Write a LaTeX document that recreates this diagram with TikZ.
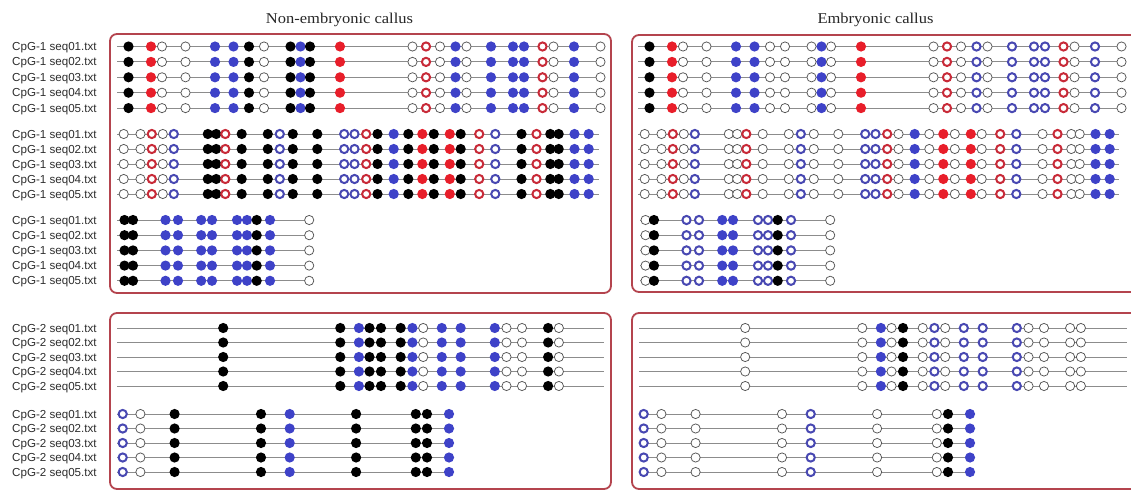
\documentclass[tikz,border=0pt]{standalone}
\usepackage{fontspec}
\setmainfont{Liberation Serif}
\setsansfont{Liberation Sans}
\definecolor{blueF}{RGB}{62,66,200}
\definecolor{redF}{RGB}{232,30,42}
\definecolor{redR}{RGB}{200,42,56}
\definecolor{blueR}{RGB}{72,72,178}
\definecolor{lineG}{RGB}{140,140,140}
\definecolor{openG}{RGB}{85,85,85}
\definecolor{panelC}{RGB}{180,68,78}
\definecolor{labC}{RGB}{45,45,45}
\newcommand\mgroup[7]{%
  \foreach \r in {1,...,5}{%
    \pgfmathsetmacro\yy{#1+(\r-1)*#2}
    \draw[seqline] (#4+#3,\yy) -- (#5+#3,\yy);
    \foreach \px/\st [count=\i] in {#6}{\node[\st] (#7-\r-\i) at (\px+#3,\yy) {};}
  }}
\newcommand\mlabels[4]{%
  \foreach \r in {1,...,5}{%
    \pgfmathsetmacro\yy{#1+(\r-1)*#2+4}
    \node[lab] (lab-#4-\r) at (12,\yy) {#3 seq0\r.txt};
  }}
\begin{document}
\begin{tikzpicture}[x=1pt,y=-1pt,
  seqline/.style={draw=lineG,line width=0.9pt},
  dot/.style={circle,inner sep=0pt,outer sep=0pt},
  dk/.style={dot,fill=black,minimum size=10.2pt},
  db/.style={dot,fill=blueF,minimum size=10.2pt},
  dr/.style={dot,fill=redF,minimum size=10.2pt},
  dw/.style={dot,fill=white,draw=openG,line width=0.75pt,minimum size=9.2pt},
  rr/.style={dot,fill=white,draw=redR,line width=2pt,minimum size=8.2pt},
  rb/.style={dot,fill=white,draw=blueR,line width=2pt,minimum size=8.2pt},
  lab/.style={anchor=base west,inner sep=0pt,text=labC,font=\sffamily\fontsize{11.6}{13}\selectfont},
  ttl/.style={anchor=base,inner sep=0pt,text=black!85,font=\rmfamily\fontsize{15}{18}\selectfont},
  panel/.style={draw=panelC,line width=1.8pt,rounded corners=7pt}]
\useasboundingbox (0,0) rectangle (1131,492);
\clip (0,0) rectangle (1131,492);
\fill[white] (0,0) rectangle (1131,492);
% titles
\node[ttl] (t1) at (339.5,23.5) {\scalebox{1.1}[1]{Non-embryonic callus}};
\node[ttl] (t2) at (875.5,23.5) {\scalebox{1.1}[1]{Embryonic callus}};
% panels
\draw[panel] (110,34) rectangle (611,293);
\draw[panel] (632,35) rectangle (1160,292);
\draw[panel] (110,313) rectangle (611,489);
\draw[panel] (632,313) rectangle (1160,489);
% labels
\mlabels{46.5}{15.4}{CpG-1}{a}
\mlabels{134}{15}{CpG-1}{b}
\mlabels{220}{15.2}{CpG-1}{c}
\mlabels{328}{14.5}{CpG-2}{d}
\mlabels{414}{14.5}{CpG-2}{e}
% group 1
\mgroup{46.5}{15.4}{0}{117}{604}{128.5/dk,151/dr,162/dw,185.5/dw,215/db,233.5/db,249/dk,264/dw,290.5/dk,300.5/db,310/dk,340/dr,412.5/dw,426/rr,440/dw,455.5/db,466.5/dw,491/db,513/db,524/db,542.5/rr,553.5/dw,574/db,600.5/dw}{g1L}
\mgroup{46.5}{15.4}{521}{117}{605}{128.5/dk,151/dr,162/dw,185.5/dw,215/db,233.5/db,249/dw,264/dw,290.5/dw,300.5/db,310/dw,340/dr,412.5/dw,426/rr,440/dw,455.5/rb,466.5/dw,491/rb,513/rb,524/rb,542.5/rr,553.5/dw,574/rb,600.5/dw}{g1R}
% group 2
\mgroup{134}{15}{0}{117}{599}{123.7/dw,140.5/dw,151.8/rr,162.8/dw,173.8/rb,207.8/dk,216.2/dk,225.3/rr,241.7/dk,267.8/dk,279.8/rb,292.8/dk,317.3/dk,344.2/rb,354.5/rb,366.2/rr,377.5/dk,393.7/db,408.3/dk,422.3/dr,433.8/dk,449.8/dr,460.7/dk,479.2/rr,495.3/rb,521.5/dk,536.5/rr,550.3/dk,558.7/dk,574.5/db,588.7/db}{g2L}
\mgroup{134}{15}{521}{117}{598}{123.7/dw,140.5/dw,151.8/rr,162.8/dw,173.8/rb,207.8/dw,216.2/dw,225.3/rr,241.7/dw,267.8/dw,279.8/rb,292.8/dw,317.3/dw,344.2/rb,354.5/rb,366.2/rr,377.5/dw,393.7/db,408.3/dw,422.3/dr,433.8/dw,449.8/dr,460.7/dw,479.2/rr,495.3/rb,521.5/dw,536.5/rr,550.3/dw,558.7/dw,574.5/db,588.7/db}{g2R}
% group 3
\mgroup{220}{15.2}{0}{117}{313}{124.5/dk,133/dk,165.5/db,178/db,201.2/db,212/db,237/db,247/db,256.7/dk,270/db,309.2/dw}{g3L}
\mgroup{220}{15.2}{521}{119}{313}{124.5/dw,133/dk,165.5/rb,178/rb,201.2/db,212/db,237/rb,247/rb,256.7/dk,270/rb,309.2/dw}{g3R}
% group 4
\mgroup{328}{14.5}{0}{117}{604}{223.2/dk,340.3/dk,358.9/db,369.5/dk,381/dk,400.7/dk,412.4/db,423.2/dw,441.8/db,460.7/db,494.8/db,506.5/dw,522/dw,548.1/dk,558.9/dw}{g4L}
\mgroup{328}{14.5}{522}{117}{605}{223.2/dw,340.3/dw,358.9/db,369.5/dw,381/dk,400.7/dw,412.4/rb,423.2/dw,441.8/rb,460.7/rb,494.8/rb,506.5/dw,522/dw,548.1/dw,558.9/dw}{g4R}
% group 5
\mgroup{414}{14.5}{0}{117}{451}{122.7/rb,140.4/dw,174.6/dk,261/dk,289.7/db,356.1/dk,415.8/dk,427/dk,449/db}{g5L}
\mgroup{414}{14.5}{521}{119}{451}{122.7/rb,140.4/dw,174.6/dw,261/dw,289.7/rb,356.1/dw,415.8/dw,427/dk,449/db}{g5R}
\end{tikzpicture}
\end{document}
